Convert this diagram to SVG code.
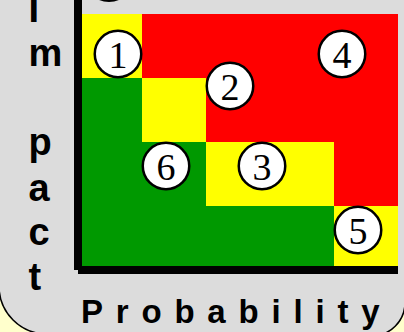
<svg xmlns="http://www.w3.org/2000/svg" width="404" height="332" viewBox="0 0 404 332">
<style>
.bg{fill:#FFFFCC}
.panel{fill:#DCDCDC;stroke:#000;stroke-width:1.5}
.y{fill:#FFFF00}.r{fill:#FF0000}.g{fill:#009900}
.axis{stroke:#000;stroke-width:8;fill:none;stroke-linecap:butt}
.c{fill:#fff;stroke:#000;stroke-width:2.5}
.n{font-family:"Liberation Serif","Times New Roman",serif;font-size:38px;text-anchor:middle;fill:#000}
.lbl{font-family:"Liberation Sans",Arial,sans-serif;font-weight:bold;fill:#000}
</style>
<rect class="bg" x="0" y="0" width="404" height="332"/>
<path class="panel" d="M-5,-5 H405 V302.5 A33.5,33.5 0 0 1 371.5,336 L47,334 A48,48 0 0 1 -1,286 Z"/>
<g id="peek-circle"><circle class="c" cx="109" cy="-22.5" r="23.25"/></g>
<g id="grid">
<rect class="y" x="78" y="14" width="64" height="64"/>
<rect class="r" x="142" y="14" width="256" height="64"/>
<rect class="g" x="78" y="78" width="64" height="64"/>
<rect class="y" x="142" y="78" width="64" height="64"/>
<rect class="r" x="206" y="78" width="192" height="64"/>
<rect class="g" x="78" y="142" width="128" height="64"/>
<rect class="y" x="206" y="142" width="128" height="64"/>
<rect class="r" x="334" y="142" width="64" height="64"/>
<rect class="g" x="78" y="206" width="256" height="64"/>
<rect class="y" x="334" y="206" width="64" height="64"/>
</g>
<g id="axes">
<line class="axis" x1="78" y1="-5" x2="78" y2="270"/>
<line class="axis" x1="78" y1="270" x2="398" y2="270"/>
</g>
<g id="risk1"><circle class="c" cx="118" cy="54" r="23.25"/><text class="n" x="118" y="67.5">1</text></g>
<g id="risk2"><circle class="c" cx="230" cy="86" r="23.25"/><text class="n" x="230" y="99.5">2</text></g>
<g id="risk3"><circle class="c" cx="262" cy="166" r="23.25"/><text class="n" x="262" y="179.5">3</text></g>
<g id="risk4"><circle class="c" cx="342" cy="54" r="23.25"/><text class="n" x="342" y="67.5">4</text></g>
<g id="risk5"><circle class="c" cx="358" cy="230" r="23.25"/><text class="n" x="358" y="243.5">5</text></g>
<g id="risk6"><circle class="c" cx="166" cy="166" r="23.25"/><text class="n" x="166" y="179.5">6</text></g>
<g id="impact-label" class="lbl" font-size="38">
<text x="28.5" y="21.7">I</text>
<text x="28.5" y="66">m</text>
<text x="28.5" y="155">p</text>
<text x="28.5" y="200.5">a</text>
<text x="28.5" y="245">c</text>
<text x="28.5" y="290">t</text>
</g>
<g id="probability-label"><text class="lbl" x="81" y="322.7" font-size="33" letter-spacing="12.8">Probability</text></g>
</svg>
